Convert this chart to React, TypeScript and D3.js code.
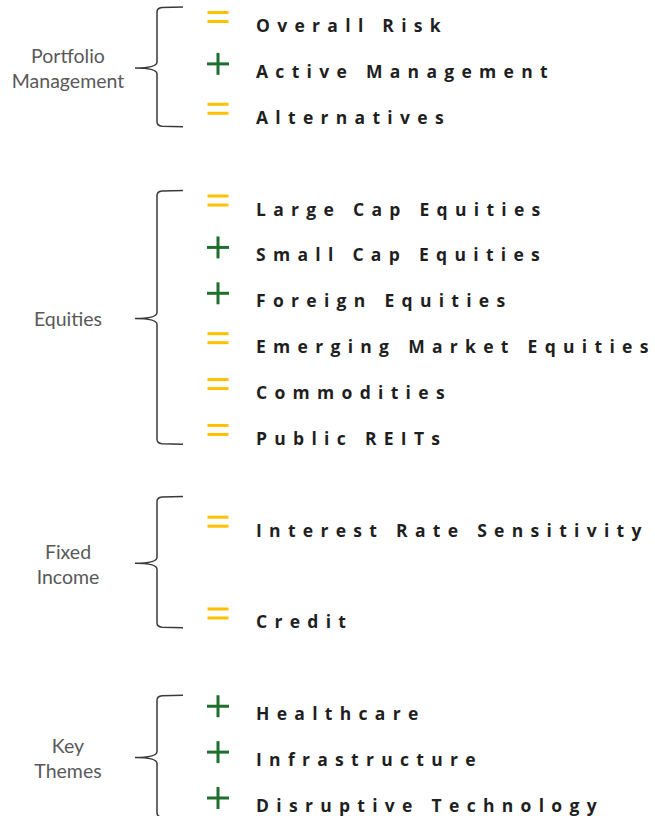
import React, { useEffect, useRef } from "react";
import * as d3 from "d3";

// groups of the outlook table and their rows
const groupNames = ["Portfolio\nManagement", "Equities", "Fixed\nIncome", "Key\nThemes"];
const itemNames = [
  ["Overall Risk", "Active Management", "Alternatives"],
  ["Large Cap Equities", "Small Cap Equities", "Foreign Equities", "Emerging Market Equities", "Commodities", "Public REITs"],
  ["Interest Rate Sensitivity", "Credit"],
  ["Healthcare", "Infrastructure", "Disruptive Technology"],
];
// "=" neutral, "+" positive
const itemViews = [
  ["=", "+", "="],
  ["=", "+", "+", "=", "=", "="],
  ["=", "="],
  ["+", "+", "+"],
];
// row slot of each item (blank slots sit between groups)
const itemSlots = [
  [0, 1, 2],
  [4, 5, 6, 7, 8, 9],
  [11, 13],
  [15, 16, 17],
];

const W = 655;
const H = 816;

export default function App() {
  const ref = useRef<SVGSVGElement>(null);

  useEffect(() => {
    const svg = d3.select(ref.current);
    svg.selectAll("*").remove();

    const y = d3.scaleLinear().domain([0, 17]).range([24, 804]);

    const tipX = 135, barX = 157, endX = 183;
    const symX = 218, textX = 256;

    itemNames.forEach((items, gi) => {
      const slots = itemSlots[gi];
      const first = slots[0], last = slots[slots.length - 1];
      const top = y(first - (slots.length === 2 ? 0.7 : 0.37));
      const bottom = y(last + (gi === 0 ? 0.24 : gi === 3 ? 0.3 : 0.16));
      const mid = (top + bottom) / 2 + 1;

      const p = d3.path();
      p.moveTo(endX, top);
      p.lineTo(barX + 5, top + 0.5);
      p.quadraticCurveTo(barX, top + 1, barX, top + 5);
      p.lineTo(barX, mid - 6);
      p.quadraticCurveTo(barX, mid, tipX, mid);
      p.quadraticCurveTo(barX, mid, barX, mid + 6);
      p.lineTo(barX, bottom - 5);
      p.quadraticCurveTo(barX, bottom - 1, barX + 5, bottom - 0.5);
      p.lineTo(endX, bottom);

      svg.append("path")
        .attr("d", p.toString())
        .attr("fill", "none")
        .attr("stroke", "#3a3a3a")
        .attr("stroke-width", 1.5);

      const lines = groupNames[gi].split("\n");
      const label = svg.append("text")
        .attr("x", 68)
        .attr("y", mid - (lines.length - 1) * 12.5)
        .attr("text-anchor", "middle")
        .attr("dominant-baseline", "central")
        .attr("font-family", "Lato, 'Open Sans', sans-serif")
        .attr("font-size", 19.5)
        .attr("fill", "#595959");
      lines.forEach((l, li) => {
        label.append("tspan")
          .attr("x", 68)
          .attr("dy", li === 0 ? 0 : 25)
          .text(l);
      });

      items.forEach((name, ii) => {
        const cy = y(slots[ii]);
        const view = itemViews[gi][ii];
        if (view === "=") {
          const sy = cy - 7;
          [-4.5, 4.5].forEach(o => {
            svg.append("line")
              .attr("x1", symX - 10.5).attr("x2", symX + 10.5)
              .attr("y1", sy + o).attr("y2", sy + o)
              .attr("stroke", "#ffc000")
              .attr("stroke-width", 3);
          });
        } else {
          const sy = cy - 6;
          svg.append("line")
            .attr("x1", symX - 11).attr("x2", symX + 11)
            .attr("y1", sy).attr("y2", sy)
            .attr("stroke", "#1e6e2e").attr("stroke-width", 3);
          svg.append("line")
            .attr("x1", symX).attr("x2", symX)
            .attr("y1", sy - 11).attr("y2", sy + 11)
            .attr("stroke", "#1e6e2e").attr("stroke-width", 3);
        }

        svg.append("text")
          .attr("x", textX)
          .attr("y", cy + 1)
          .attr("dominant-baseline", "central")
          .attr("font-family", "'Open Sans', sans-serif")
          .attr("font-weight", "bold")
          .attr("font-size", 17.5)
          .attr("letter-spacing", 7.3)
          .attr("fill", "#1f1f1f")
          .text(name);
      });
    });
  }, []);

  return (
    <svg ref={ref} width={W} height={H} style={{ position: "absolute", left: 0, top: 0, background: "#fff" }} />
  );
}
